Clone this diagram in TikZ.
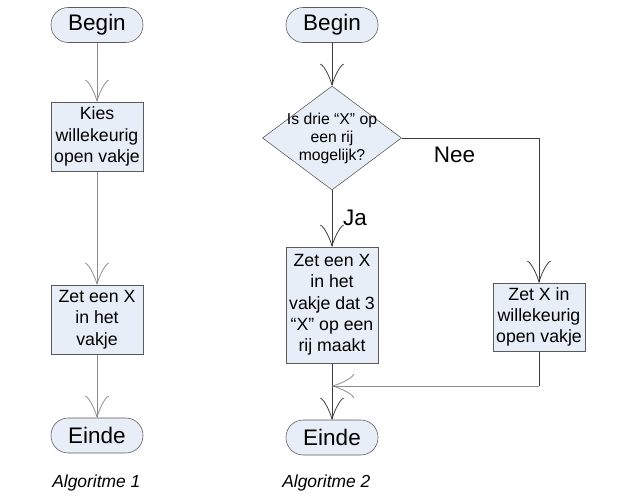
\documentclass[tikz,border=0pt]{standalone}
\usepackage{fontspec}
\setmainfont{Liberation Sans}
\usetikzlibrary{shapes.geometric,arrows.meta}
\pgfdeclarelayer{bg}
\pgfsetlayers{bg,main}
\definecolor{boxfill}{HTML}{E8EEF8}
\definecolor{boxline}{HTML}{5A5A5A}
\definecolor{greyline}{HTML}{8C8C8C}
\definecolor{darkline}{HTML}{3C3C3C}
\tikzset{
    every node/.style={inner sep=0mm, align=center}
}
\tikzset{
    term/.style={rectangle, rounded corners=0.43cm, draw=boxline, fill=boxfill, minimum width=2.3cm, minimum height=0.875cm, font=\fontsize{16}{19}\selectfont},
    proc/.style={rectangle, draw=boxline, fill=boxfill, minimum width=2.3cm, font=\fontsize{12.6}{15.2}\selectfont},
    dec/.style={diamond, draw=boxline, fill=boxfill, aspect=1.34, inner xsep=-1.5mm, inner ysep=-1.5mm, minimum width=3.475cm, minimum height=2.6cm, font=\fontsize{11.2}{12.8}\selectfont},
    lbl/.style={font=\fontsize{16}{19}\selectfont},
    caption/.style={font=\fontsize{12.4}{15}\selectfont\itshape}
}
\tikzset{
    flow/.style={line width=0.7pt, -{Classical TikZ Rightarrow[length=0.55cm, width=0.6cm]}}
}

\begin{document}
\begin{tikzpicture}
        \useasboundingbox (0cm, 0cm) rectangle (16.025cm, -12.425cm);
        \node (b1) [term] at (2.425cm, -0.625cm) {Begin};
        \node (k1) [proc, minimum height=1.725cm] at (2.425cm, -3.4125cm) {Kies\\willekeurig\\open vakje};
        \node (z1) [proc, minimum height=1.725cm] at (2.425cm, -7.9875cm) {Zet een X\\in het\\vakje};
        \node (e1) [term] at (2.425cm, -10.8875cm) {Einde};
        \node (a1) [caption, anchor=base west] at (1.3cm, -12.175cm) {Algoritme 1};
        \node (b2) [term] at (8.3cm, -0.625cm) {Begin};
        \node (d2) [dec] at (8.3cm, -3.45cm) {Is drie “X” op\\een rij\\mogelijk?};
        \node (l2) [proc, minimum height=2.9cm] at (8.3cm, -7.625cm) {Zet een X\\in het\\vakje dat 3\\“X” op een\\rij maakt};
        \node (r2) [proc, minimum height=1.7cm] at (13.475cm, -7.925cm) {Zet X in\\willekeurig\\open vakje};
        \node (e2) [term] at (8.3cm, -10.9375cm) {Einde};
        \node (nee) [lbl] at (11.3625cm, -3.875cm) {Nee};
        \node (ja) [lbl] at (8.875cm, -5.45cm) {Ja};
        \node (a2) [caption, anchor=base west] at (7.05cm, -12.175cm) {Algoritme 2};
        \coordinate (c2) at (13.475cm, -9.65cm);
        \coordinate (m2) at (8.3cm, -9.65cm);
        \begin{pgfonlayer}{bg}
                \draw (b1) edge [flow, greyline] (k1);
                \draw (k1) edge [flow, greyline] (z1);
                \draw (z1) edge [flow, greyline] (e1);
                \draw (b2) edge [flow, darkline] (d2);
                \draw (d2) edge [flow, darkline] (l2);
                \draw [flow, darkline] (d2) -| (r2);
                \draw (l2) edge [flow, darkline] (e2);
                \draw [line width=0.7pt, darkline] (r2) -- (c2);
                \draw (c2) edge [flow, greyline] (m2);
        \end{pgfonlayer}
\end{tikzpicture}
\end{document}
